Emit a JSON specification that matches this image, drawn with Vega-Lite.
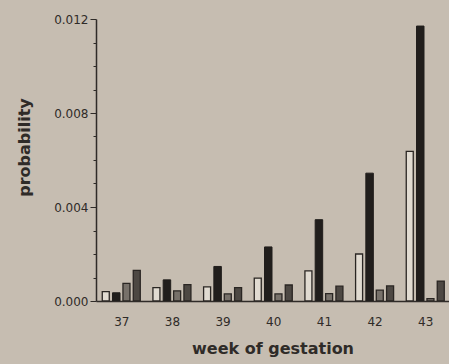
{
  "$schema": "https://vega.github.io/schema/vega-lite/v6.json",
  "width": 353,
  "height": 282,
  "autosize": {"type": "none"},
  "padding": {"left": 96, "top": 19, "right": 0, "bottom": 63},
  "background": "#c6bdb1",
  "config": {
    "view": {"stroke": null},
    "axis": {"labelFont": "DejaVu Sans", "titleFont": "DejaVu Sans", "labelColor": "#2f2b28", "titleColor": "#2f2b28", "domainColor": "#2f2b28", "tickColor": "#2f2b28", "grid": false}
  },
  "data": {
    "values": [
      {"week": 37, "series": "A", "p": 0.0004},
      {"week": 37, "series": "B", "p": 0.00035},
      {"week": 37, "series": "C", "p": 0.00075},
      {"week": 37, "series": "D", "p": 0.0013},
      {"week": 38, "series": "A", "p": 0.00057},
      {"week": 38, "series": "B", "p": 0.0009},
      {"week": 38, "series": "C", "p": 0.00043},
      {"week": 38, "series": "D", "p": 0.0007},
      {"week": 39, "series": "A", "p": 0.0006},
      {"week": 39, "series": "B", "p": 0.00147},
      {"week": 39, "series": "C", "p": 0.0003},
      {"week": 39, "series": "D", "p": 0.00057},
      {"week": 40, "series": "A", "p": 0.00097},
      {"week": 40, "series": "B", "p": 0.0023},
      {"week": 40, "series": "C", "p": 0.0003},
      {"week": 40, "series": "D", "p": 0.00068},
      {"week": 41, "series": "A", "p": 0.00128},
      {"week": 41, "series": "B", "p": 0.00346},
      {"week": 41, "series": "C", "p": 0.00031},
      {"week": 41, "series": "D", "p": 0.00063},
      {"week": 42, "series": "A", "p": 0.002},
      {"week": 42, "series": "B", "p": 0.00544},
      {"week": 42, "series": "C", "p": 0.00046},
      {"week": 42, "series": "D", "p": 0.00064},
      {"week": 43, "series": "A", "p": 0.00637},
      {"week": 43, "series": "B", "p": 0.0117},
      {"week": 43, "series": "C", "p": 0.0001},
      {"week": 43, "series": "D", "p": 0.00085}
    ]
  },
  "encoding": {
    "x": {
      "field": "week", "type": "quantitative",
      "scale": {"domain": [36.6, 43.37], "nice": false, "zero": false},
      "axis": {"values": [37, 38, 39, 40, 41, 42, 43], "format": "d", "ticks": false, "labelPadding": 15, "labelFontSize": 12, "title": "week of gestation", "titleFontSize": 16, "titleFontWeight": "bold", "titlePadding": 13, "domainWidth": 1.5}
    },
    "y": {
      "field": "p", "type": "quantitative",
      "scale": {"domain": [0, 0.012], "nice": false},
      "axis": {
        "values": [0, 0.001, 0.002, 0.003, 0.004, 0.005, 0.006, 0.007, 0.008, 0.009, 0.01, 0.011, 0.012],
        "labelExpr": "round(datum.value*1000) % 4 === 0 ? format(datum.value, '.3f') : ''",
        "tickSize": {"expr": "round(datum.value*1000) % 4 === 0 ? 6 : 3"},
        "labelFontSize": 12, "labelPadding": 2, "domainWidth": 1.5,
        "title": "probability", "titleFontSize": 16, "titleFontWeight": "bold",
        "titleX": -64, "titleY": 128
      }
    }
  },
  "layer": [
    {"transform": [{"filter": "datum.series === 'A'"}], "mark": {"type": "bar", "width": 7, "xOffset": -15.5, "fill": "#e1dbd1", "stroke": "#2a2623", "strokeWidth": 1.3, "clip": true}},
    {"transform": [{"filter": "datum.series === 'B'"}], "mark": {"type": "bar", "width": 7.5, "xOffset": -5, "fill": "#211e1c", "stroke": "#211e1c", "strokeWidth": 1, "clip": true}},
    {"transform": [{"filter": "datum.series === 'C'"}], "mark": {"type": "bar", "width": 7, "xOffset": 5.2, "fill": "#77716a", "stroke": "#2a2623", "strokeWidth": 1.3, "clip": true}},
    {"transform": [{"filter": "datum.series === 'D'"}], "mark": {"type": "bar", "width": 7, "xOffset": 15.5, "fill": "#4d4843", "stroke": "#2a2623", "strokeWidth": 1.3, "clip": true}}
  ]
}
